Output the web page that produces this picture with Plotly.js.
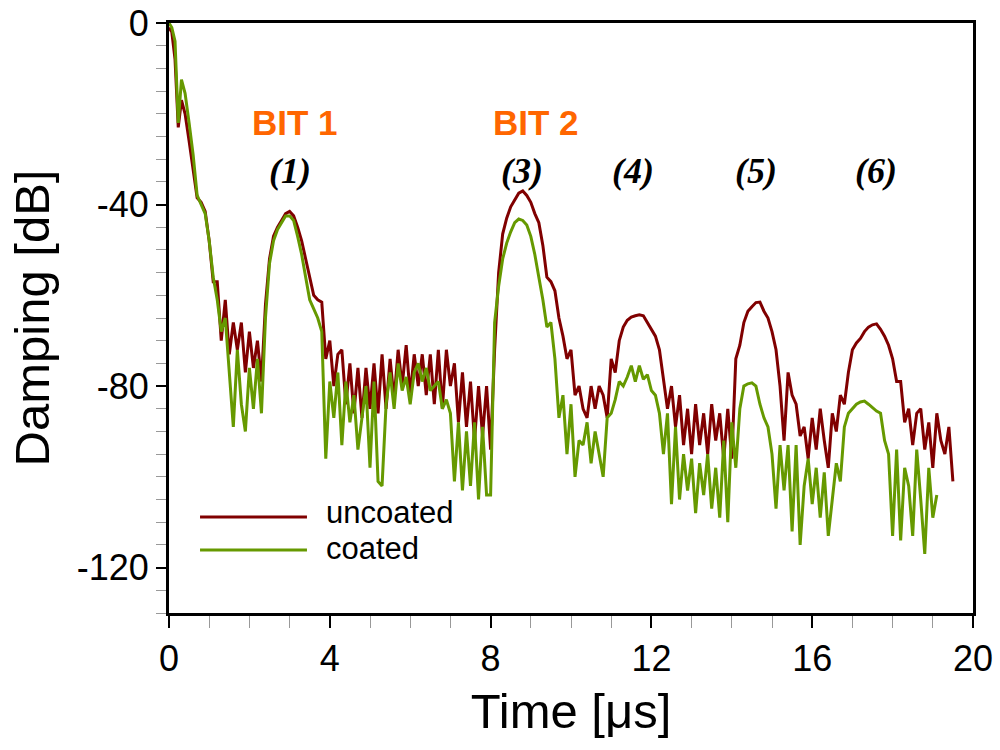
<!DOCTYPE html>
<html>
<head>
<meta charset="utf-8">
<script src="https://cdn.plot.ly/plotly-3.0.1.min.js"></script>
<style>
  body { margin: 0; background: #fff; }
  #chart { width: 1000px; height: 750px; }
</style>
</head>
<body>
<div id="chart"></div>
<script>
// time axis [µs]
const timeUs = [
  0, 0.07, 0.15, 0.23, 0.31, 0.4, 0.5, 0.6, 0.7, 0.8, 0.9,
  1.0, 1.1, 1.2, 1.3, 1.4, 1.5, 1.6, 1.7, 1.8, 1.9,
  2.0, 2.1, 2.2, 2.3, 2.4, 2.5, 2.6, 2.7, 2.8, 2.9,
  3.0, 3.1, 3.2, 3.3, 3.4, 3.5, 3.6, 3.7, 3.8, 3.9,
  4.0, 4.1, 4.2, 4.3, 4.4, 4.5, 4.6, 4.7, 4.8, 4.9,
  5.0, 5.1, 5.2, 5.3, 5.4, 5.5, 5.6, 5.7, 5.8, 5.9,
  6.0, 6.1, 6.2, 6.3, 6.4, 6.5, 6.6, 6.7, 6.8, 6.9,
  7.0, 7.1, 7.2, 7.3, 7.4, 7.5, 7.6, 7.7, 7.8, 7.9,
  8.0, 8.1, 8.2, 8.3, 8.4, 8.5, 8.6, 8.7, 8.8, 8.9,
  9.0, 9.1, 9.2, 9.3, 9.4, 9.5, 9.6, 9.7, 9.8, 9.9,
  10.0, 10.1, 10.2, 10.3, 10.4, 10.5, 10.6, 10.7, 10.8, 10.9,
  11.0, 11.1, 11.2, 11.3, 11.4, 11.5, 11.6, 11.7, 11.8, 11.9,
  12.0, 12.1, 12.2, 12.3, 12.4, 12.5, 12.6, 12.7, 12.8, 12.9,
  13.0, 13.1, 13.2, 13.3, 13.4, 13.5, 13.6, 13.7, 13.8, 13.9,
  14.0, 14.1, 14.2, 14.3, 14.4, 14.5, 14.6, 14.7, 14.8, 14.9,
  15.0, 15.1, 15.2, 15.3, 15.4, 15.5, 15.6, 15.7, 15.8, 15.9,
  16.0, 16.1, 16.2, 16.3, 16.4, 16.5, 16.6, 16.7, 16.8, 16.9,
  17.0, 17.1, 17.2, 17.3, 17.4, 17.5, 17.6, 17.7, 17.8, 17.9,
  18.0, 18.1, 18.2, 18.3, 18.4, 18.5, 18.6, 18.7, 18.8, 18.9,
  19.0, 19.1, 19.2, 19.3, 19.4, 19.5
];

// damping [dB], uncoated bit
const uncoatedDb = [
  -1, -2, -8, -23, -17, -20, -26, -32, -38.5, -39.5, -41.5,
  -48, -57, -57, -70, -61, -73, -66, -72, -66, -77,
  -68, -76, -70, -79, -62, -52, -47, -45, -43.5, -42,
  -41.5, -42.5, -45, -48, -52, -56, -60, -61, -61.5, -74,
  -70, -80, -73, -72, -84, -75, -86, -76, -87, -76,
  -85, -75, -86, -73, -85, -74, -83, -72, -80, -71,
  -82, -73, -80, -73, -82, -73, -84, -72, -85, -72,
  -80, -75, -88, -77, -89, -79, -92, -80, -91, -80,
  -94, -72, -55, -46.5, -43, -40.5, -39, -37.5, -37, -38,
  -39.5, -42, -44, -49, -56, -57, -59, -65, -69, -74,
  -72, -82, -80, -85, -87, -80, -85, -80, -82, -87,
  -74, -77, -70, -67, -65.5, -64.8, -64.5, -64.3, -64.5, -66,
  -67.5, -69, -72, -78, -85, -80, -89, -82, -93, -85,
  -95, -84, -93, -86, -95, -84, -92, -86, -96, -85,
  -96, -74, -71, -66, -63.5, -62.5, -61.6, -61.5, -63.5, -65,
  -68, -72, -80, -92, -77, -82, -84, -91, -89, -96,
  -87, -94, -85, -92, -98, -86, -90, -82, -84, -77,
  -72, -70.5, -69.5, -68, -67, -66.5, -66.3, -67.5, -69, -71,
  -74, -79, -79, -88, -85, -93, -86, -85, -94, -88,
  -98, -86, -92, -95, -89, -101
];

// damping [dB], coated bit
const coatedDb = [
  0, -1, -4, -22, -12.5, -15.5, -22, -29, -38, -40, -42,
  -48, -56, -61, -68, -65, -77, -89, -72, -84, -90,
  -76, -85, -74, -86, -65, -53, -48, -45.5, -44, -42.5,
  -42.5, -43.5, -47, -51, -56, -61, -63, -65, -68, -96,
  -79, -87, -77, -93, -79, -88, -82, -94, -87, -80,
  -98, -79, -101, -102, -84, -77, -85, -75, -81, -78,
  -84, -77, -75, -79, -76, -81, -80, -79, -85, -83,
  -86, -101, -88, -103, -90, -102, -88, -105, -89, -104,
  -104, -66, -58, -52, -48.5, -46, -44, -43.2, -43.5, -44.5,
  -47, -51, -56, -61, -67, -66, -74, -87, -82, -95,
  -84, -100, -92, -93, -88, -97, -90, -95, -100, -87,
  -86, -83, -79, -80, -78, -75.5, -79, -75.5, -78.5, -77.5,
  -81, -82, -86, -95, -86, -106, -89, -105, -95, -103,
  -96, -108, -97, -104, -95, -107, -98, -109, -92, -110,
  -88, -98, -85, -80, -79.5, -79.3, -80, -84, -87, -89,
  -95, -107, -93, -103, -93, -112, -93, -115, -102, -96,
  -106, -98, -109, -99, -113, -105, -97, -101, -89, -86,
  -85, -84, -83.5, -83.3, -84, -84.8, -85.5, -86, -92, -95,
  -113, -94, -114, -98, -102, -113, -94, -105, -117, -98,
  -109, -104, null, null, null, null
];

const seriesNames = ["uncoated", "coated"];
const seriesColors = ["#800000", "#669900"];

// peak labels
const bitLabels = ["BIT 1", "BIT 2"];
const bitTimes = [3.13, 9.14];
const peakLabels = ["(1)", "(3)", "(4)", "(5)", "(6)"];
const peakTimes = [3.0, 8.77, 11.53, 14.61, 17.59];

const yTickVals = [0, -40, -80, -120];
const yTickText = ["0", "-40", "-80", "-120"];
const xTickVals = [0, 4, 8, 12, 16, 20];

function makeTrace(yValues, i) {
  return {
    x: timeUs,
    y: yValues,
    name: seriesNames[i],
    mode: "lines",
    type: "scatter",
    line: { color: seriesColors[i], width: 3 },
    connectgaps: false,
    showlegend: false,
  };
}

const data = [makeTrace(uncoatedDb, 0), makeTrace(coatedDb, 1)];

const font = "Liberation Sans, Arial, sans-serif";
const serif = "Liberation Serif, Times New Roman, serif";

const annotations = [];
bitLabels.forEach((txt, i) => {
  annotations.push({
    x: bitTimes[i], y: -22, xref: "x", yref: "y",
    text: "<b>" + txt + "</b>", showarrow: false,
    font: { family: font, size: 35, color: "#FF6600" },
  });
});
peakLabels.forEach((txt, i) => {
  annotations.push({
    x: peakTimes[i], y: -32.5, xref: "x", yref: "y",
    text: "<b><i>" + txt + "</i></b>", showarrow: false,
    font: { family: serif, size: 36, color: "#000" },
  });
});

// hand drawn legend (long line samples as in the original)
const legendLineY = [0.1627, 0.1068];
const legendTextY = [0.1695, 0.1085];
const shapes = [];
seriesNames.forEach((name, i) => {
  shapes.push({
    type: "line", xref: "paper", yref: "paper",
    x0: 0.0386, x1: 0.1716, y0: legendLineY[i], y1: legendLineY[i],
    line: { color: seriesColors[i], width: 3 },
  });
  annotations.push({
    x: 0.193, y: legendTextY[i], xref: "paper", yref: "paper",
    xanchor: "left", yanchor: "middle", text: name, showarrow: false,
    font: { family: font, size: 31, color: "#000" },
  });
});

const layout = {
  width: 1000,
  height: 750,
  paper_bgcolor: "#fff",
  plot_bgcolor: "#fff",
  margin: { l: 169, r: 27, t: 23, b: 137 },
  showlegend: false,
  xaxis: {
    range: [0, 20],
    tickmode: "array",
    tickvals: xTickVals,
    ticks: "outside",
    ticklen: 12,
    tickwidth: 2,
    tickcolor: "#000",
    showline: true,
    linewidth: 3,
    linecolor: "#000",
    mirror: true,
    showgrid: false,
    zeroline: false,
    tickfont: { family: font, size: 36, color: "#000" },
    minor: { dtick: 1, tick0: 0, ticks: "outside", ticklen: 12, tickwidth: 1, tickcolor: "#999", showgrid: false },
    title: { text: "Time [μs]", font: { family: font, size: 49, color: "#000" }, standoff: 16 },
  },
  yaxis: {
    range: [-130, 0],
    tickmode: "array",
    tickvals: yTickVals,
    ticktext: yTickText,
    ticks: "outside",
    ticklen: 10,
    tickwidth: 2,
    tickcolor: "#000",
    showline: true,
    linewidth: 3,
    linecolor: "#000",
    mirror: true,
    showgrid: false,
    zeroline: false,
    tickfont: { family: font, size: 36, color: "#000" },
    minor: { dtick: 5, tick0: 0, ticks: "outside", ticklen: 10, tickwidth: 1, tickcolor: "#999", showgrid: false },
    title: { text: "Damping [dB]", font: { family: font, size: 49, color: "#000" }, standoff: 12 },
  },
  annotations,
  shapes,
};

Plotly.newPlot("chart", data, layout, { staticPlot: true });
</script>
</body>
</html>
